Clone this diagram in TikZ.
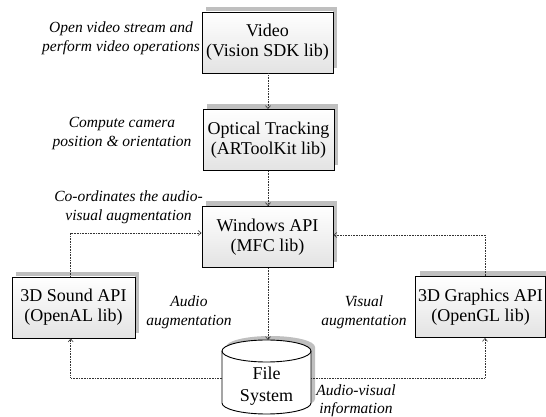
\documentclass[tikz,border=0pt]{standalone}
\usepackage{fontspec}
\setmainfont{Liberation Serif}
\usetikzlibrary{arrows.meta,shadows}
\tikzset{
  blk/.style={draw=black, line width=0.9pt, top color=white, bottom color=gray!22,
    minimum width=#1, minimum height=61pt, inner sep=0pt, align=center,
    font=\fontsize{18}{20}\selectfont,
    general shadow={shadow xshift=4pt, shadow yshift=5pt, fill=gray!50}},
  lbl/.style={align=center, font=\fontsize{15.5}{18.5}\selectfont\itshape, inner sep=0pt},
  conn/.style={densely dotted, line width=0.6pt, draw=black!80,
    -{Straight Barb[length=3pt,width=5pt]}}
}
\begin{document}
\begin{tikzpicture}[x=1pt,y=1pt]
\useasboundingbox (0,0) rectangle (546,417);
% boxes
\node[blk=131pt] (video) at (267.5,374.5) {Video\\(Vision SDK lib)};
\node[blk=131pt] (opt) at (268.5,277) {Optical Tracking\\(ARToolKit lib)};
\node[blk=131pt] (win) at (267.5,180) {Windows API\\(MFC lib)};
\node[blk=123pt] (snd) at (73.5,109.5) {3D Sound API\\(OpenAL lib)};
\node[blk=130pt] (gfx) at (480.5,110) {3D Graphics API\\(OpenGL lib)};
% cylinder
\begin{scope}[shift={(4,4)}]
\fill[gray!50] (222,66) -- (222,14) arc[start angle=180,end angle=360,x radius=44.5,y radius=11]
  -- (311,66) arc[start angle=0,end angle=180,x radius=44.5,y radius=11] -- cycle;
\end{scope}
\draw[line width=0.9pt, fill=white] (222,66) -- (222,14) arc[start angle=180,end angle=360,x radius=44.5,y radius=11]
  -- (311,66) arc[start angle=0,end angle=180,x radius=44.5,y radius=11] -- cycle;
\draw[line width=0.9pt] (222,66) arc[start angle=180,end angle=360,x radius=44.5,y radius=11];
\node[align=center, font=\fontsize{18}{22}\selectfont, inner sep=0pt] (fs) at (266.5,31) {File\\System};
\coordinate (cx) at (268,0);
\coordinate (cyltop) at (266.5,77);
\coordinate (cylL) at (222,39);
\coordinate (cylR) at (311,39);
\coordinate (sndup) at (70.7,184);
\coordinate (gfxup) at (485,182);
\coordinate (sndlo) at (70.7,39);
\coordinate (gfxlo) at (485,39);
% connectors
\draw[conn] (video.south -| cx) -- (opt.north -| cx);
\draw[conn] (opt.south -| cx) -- (win.north -| cx);
\draw[conn] (win.south -| cx) -- (cyltop -| cx);
\draw[conn] (snd.north -| sndup) -- (sndup) -- (win.west |- sndup);
\draw[conn] (gfx.north -| gfxup) -- (gfxup) -- (win.east |- gfxup);
\draw[conn] (cylL) -- (sndlo) -- (snd.south -| sndlo);
\draw[conn] (cylR) -- (gfxlo) -- (gfx.south -| gfxlo);
% labels
\node[lbl] (l1) at (121,378.5) {Open video stream and\\perform video operations};
\node[lbl] (l2) at (122,283.5) {Compute camera\\position \& orientation};
\node[lbl] (l3) at (128.5,209.5) {Co-ordinates the audio-\\visual augmentation};
\node[lbl] (l4) at (189,104.5) {Audio\\augmentation};
\node[lbl] (l5) at (364,104.5) {Visual\\augmentation};
\node[lbl] (l6) at (356,16) {Audio-visual\\information};
\end{tikzpicture}
\end{document}
